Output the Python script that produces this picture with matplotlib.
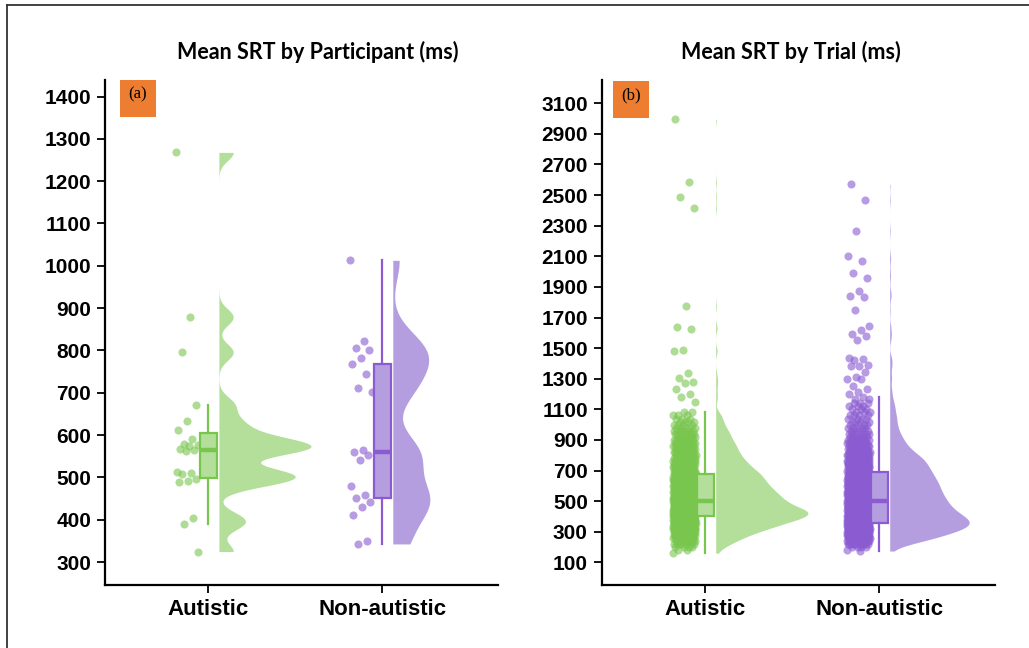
import numpy as np
import matplotlib
matplotlib.use('Agg')
import matplotlib.pyplot as plt
from matplotlib.patches import Rectangle
from matplotlib.lines import Line2D

# categorias
groups = ['Autistic', 'Non-autistic']

# painel (a): media por participante (ms)
part_aut = [1268, 879, 796, 672, 634, 611, 591, 580, 576, 574, 567, 564, 562,
            514, 510, 508, 496, 492, 489, 404, 389, 325]
part_non = [1013, 823, 806, 802, 782, 768, 744, 711, 702, 565, 561, 554, 541,
            481, 458, 451, 442, 430, 411, 350, 343]

# painel (b): media por tentativa, contagens por faixa de 20 ms (centro da faixa)
trial_bins = [160, 180, 200, 220, 240, 260, 280, 300, 320, 340,
              360, 380, 400, 420, 440, 460, 480, 500, 520, 540,
              560, 580, 600, 620, 640, 660, 680, 700, 720, 740,
              760, 780, 800, 820, 840, 860, 880, 900, 920, 940,
              960, 980, 1000, 1020, 1040, 1060, 1080, 1100, 1120, 1140]
trial_aut_counts = [1, 2, 4, 7, 10, 13, 16, 20, 25, 29,
                    33, 39, 43, 45, 44, 38, 35, 33, 31, 30,
                    28, 27, 25, 24, 23, 22, 21, 19, 17, 16,
                    14, 13, 12, 11, 10, 10, 9, 8, 7, 7,
                    6, 5, 4, 4, 3, 3, 2, 0, 0, 0]
trial_non_counts = [0, 1, 4, 11, 20, 26, 31, 37, 42, 45,
                    46, 44, 42, 39, 36, 35, 33, 32, 31, 30,
                    29, 28, 28, 27, 26, 25, 24, 23, 22, 21,
                    20, 19, 16, 14, 12, 10, 9, 8, 7, 6,
                    5, 5, 4, 4, 4, 4, 3, 3, 3, 3]
# valores isolados (cauda)
trial_aut_extra = [2994, 2583, 2489, 2413, 1776, 1635, 1625, 1487, 1478, 1338,
                   1305, 1278, 1270, 1233, 1202, 1180, 1150]
trial_non_extra = [2570, 2467, 2267, 2102, 2070, 1993, 1957, 1870, 1840, 1835,
                   1746, 1646, 1620, 1590, 1580, 1555, 1435, 1430, 1425, 1390,
                   1385, 1380, 1341, 1310, 1300, 1295, 1250, 1230, 1215, 1200,
                   1180, 1170, 1165, 174]

green = '#78C64E'
green_light = '#B3DF9A'
purple = '#8A5BD1'
purple_light = '#B59EE0'
colors = [green, purple]
colors_light = [green_light, purple_light]

W, H = 1029, 648


def expand(bins, counts, extra):
    return np.concatenate([np.repeat(bins, counts), np.array(extra, dtype=float)])


def bw_nrd0(x):
    x = np.asarray(x, dtype=float)
    iqr = np.subtract(*np.percentile(x, [75, 25]))
    s = min(x.std(ddof=1), iqr / 1.34)
    return 0.9 * s * len(x) ** -0.2


def kde(x, adjust=0.5):
    x = np.asarray(x, dtype=float)
    bw = bw_nrd0(x) * adjust
    grid = np.linspace(x.min(), x.max(), 600)
    z = (grid[:, None] - x[None, :]) / bw
    d = np.exp(-0.5 * z ** 2).sum(axis=1) / (len(x) * bw * np.sqrt(2 * np.pi))
    return grid, d


def raincloud(ax, data):
    dens = [kde(d) for d in data]
    scale = 0.53 / max(d.max() for g, d in dens)
    for i, d in enumerate(data):
        pos = i + 1
        g, dd = dens[i]
        ax.fill_betweenx(g, pos + 0.06, pos + 0.06 + dd * scale,
                         color=colors_light[i], lw=0, zorder=1)
        # jitter (deslocamento horizontal dos pontos)
        k = np.arange(len(d))
        xj = pos - 0.185 + 0.13 * ((k * 0.6180339887) % 1.0)
        ax.scatter(xj, d, s=34, color=colors[i], alpha=0.6, lw=0, zorder=2)
        ax.boxplot([d], positions=[pos], widths=0.1, patch_artist=True,
                   showfliers=False, showcaps=False, manage_ticks=False,
                   boxprops=dict(facecolor=colors_light[i], edgecolor=colors[i], lw=1.6),
                   medianprops=dict(color=colors[i], lw=3.2),
                   whiskerprops=dict(color=colors[i], lw=1.6), zorder=3)
    ax.set_xlim(0.405, 2.665)
    ax.set_xticks([1, 2])
    ax.set_xticklabels(groups)
    for s in ['top', 'right']:
        ax.spines[s].set_visible(False)
    for s in ['left', 'bottom']:
        ax.spines[s].set_linewidth(1.6)
    ax.tick_params(axis='both', direction='out', length=6, width=1.3, color='black', pad=4)
    for lab in ax.get_yticklabels():
        lab.set_fontfamily('Liberation Sans')
        lab.set_fontweight('bold')
        lab.set_fontsize(15)
    for lab in ax.get_xticklabels():
        lab.set_fontfamily('Liberation Sans')
        lab.set_fontweight('bold')
        lab.set_fontsize(16)


fig = plt.figure(figsize=(W / 100, H / 100), dpi=100)
ax1 = fig.add_axes([105 / W, 1 - 585 / H, (498 - 105) / W, (585 - 80) / H])
ax2 = fig.add_axes([601.7 / W, 1 - 585 / H, (995 - 601.7) / W, (585 - 80) / H])

ax1.set_ylim(246, 1439)
ax1.set_yticks(np.arange(300, 1401, 100))
raincloud(ax1, [np.array(part_aut, dtype=float), np.array(part_non, dtype=float)])

trial_aut = expand(trial_bins, trial_aut_counts, trial_aut_extra)
trial_non = expand(trial_bins, trial_non_counts, trial_non_extra)
ax2.set_ylim(-48, 3252)
ax2.set_yticks(np.arange(100, 3101, 200))
raincloud(ax2, [trial_aut, trial_non])

# titulos
fig.text(318 / W, 1 - 52 / H, 'Mean SRT by Participant (ms)', ha='center', va='center',
         fontsize=15.5, fontweight='bold', family='Lato')
fig.text(791 / W, 1 - 52 / H, 'Mean SRT by Trial (ms)', ha='center', va='center',
         fontsize=15.5, fontweight='bold', family='Lato')

# etiquetas (a) e (b)
for x0, y0, lab in [(120, 80, '(a)'), (613, 81, '(b)')]:
    fig.add_artist(Rectangle((x0 / W, 1 - (y0 + 37) / H), 36 / W, 37 / H,
                             transform=fig.transFigure, color='#ED7D31', lw=0))
    fig.text((x0 + 18) / W, 1 - (y0 + 14) / H, lab, ha='center', va='center',
             fontsize=12, family='Liberation Serif')

# moldura
fig.add_artist(Line2D([7 / W, 1], [1 - 5 / H, 1 - 5 / H], transform=fig.transFigure,
                      color='#333333', lw=1.3))
fig.add_artist(Line2D([7 / W, 7 / W], [0, 1 - 5 / H], transform=fig.transFigure,
                      color='#333333', lw=1.3))

plt.savefig('out.png', dpi=100)
